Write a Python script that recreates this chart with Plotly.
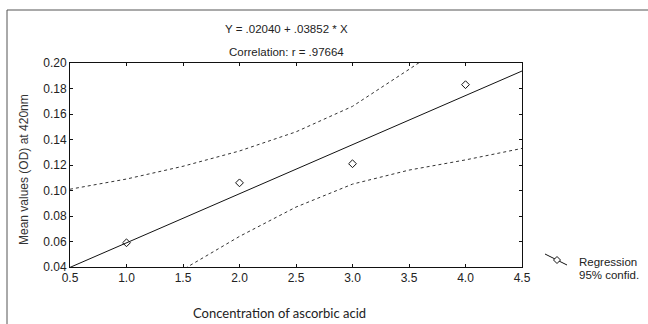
import plotly.graph_objects as go

# Observed data
conc = [1.0, 2.0, 3.0, 4.0]
od_mean = [0.059, 0.106, 0.121, 0.183]

# Regression line and 95% confidence band
line_x = [0.5, 1.0, 1.5, 2.0, 2.5, 3.0, 3.5, 4.0, 4.5]
reg_y = [0.0397, 0.0589, 0.0782, 0.0974, 0.1167, 0.1360, 0.1552, 0.1745, 0.1937]
upper_y = [0.101, 0.109, 0.119, 0.131, 0.146, 0.166, 0.195, 0.224, 0.254]
lower_y = [-0.021, 0.009, 0.038, 0.064, 0.087, 0.105, 0.116, 0.124, 0.133]

x_ticks = [0.5, 1.0, 1.5, 2.0, 2.5, 3.0, 3.5, 4.0, 4.5]
y_ticks = [0.04, 0.06, 0.08, 0.10, 0.12, 0.14, 0.16, 0.18, 0.20]

title_1 = "Y = .02040 + .03852 * X"
title_2 = "Correlation: r = .97664"
legend_1 = "Regression"
legend_2 = "95% confid."

INK = "#222222"
FONT = "Liberation Sans, Arial, sans-serif"

fig = go.Figure()
fig.add_trace(go.Scatter(x=line_x, y=upper_y, mode="lines",
                         line=dict(color="#333333", width=1, dash="3px,3px"),
                         showlegend=False, hoverinfo="skip"))
fig.add_trace(go.Scatter(x=line_x, y=lower_y, mode="lines",
                         line=dict(color="#333333", width=1, dash="3px,3px"),
                         showlegend=False, hoverinfo="skip"))
fig.add_trace(go.Scatter(x=line_x, y=reg_y, mode="lines",
                         line=dict(color="#111111", width=1),
                         showlegend=False))
fig.add_trace(go.Scatter(x=conc, y=od_mean, mode="markers",
                         marker=dict(symbol="diamond-open", size=6, color="#111111",
                                     line=dict(width=1)),
                         showlegend=False))

axis_common = dict(showline=True, linecolor="#111111", linewidth=1, mirror="ticks",
                   ticks="inside", ticklen=3, tickcolor="#111111",
                   showgrid=False, zeroline=False,
                   tickfont=dict(family=FONT, size=12, color=INK))

fig.update_xaxes(range=[0.5, 4.5], tickvals=x_ticks, tickformat=".1f", **axis_common)
fig.update_yaxes(range=[0.04, 0.20], tickvals=y_ticks, tickformat=".2f", **axis_common)

W, H = 648, 324
L, R, T, B = 70, 126, 63, 57
pw, ph = W - L - R, H - T - B

def px(xp):
    return (xp - L) / pw

def py(yp):
    return (H - B - yp) / ph

def note(text, x, y, size=11, family=FONT, color=INK, xanchor="center", angle=0):
    fig.add_annotation(text=text, x=px(x), y=py(y), xref="paper", yref="paper",
                       xanchor=xanchor, yanchor="middle", showarrow=False,
                       textangle=angle, font=dict(family=family, size=size, color=color))

note(title_1, 286, 29, size=11.5)
note(title_2, 286, 52, size=11.5)
note("Concentration of ascorbic acid", 279, 313, size=13, family="Lato, Carlito, sans-serif")
note("Mean values (OD) at 420nm", 24, 170, size=12, color="#333333", angle=-90)

# legend (drawn manually): slanted line with a diamond, two text lines
fig.add_shape(type="line", xref="paper", yref="paper",
              x0=px(545), y0=py(254), x1=px(567), y1=py(265),
              line=dict(color="#111111", width=1))
fig.add_shape(type="path", xref="paper", yref="paper",
              path=f"M {px(557)},{py(256.5)} L {px(560.5)},{py(260)} L {px(557)},{py(263.5)} "
                   f"L {px(553.5)},{py(260)} Z",
              fillcolor="white", line=dict(color="#111111", width=1))
note(legend_1, 577, 262, size=11.5, xanchor="left")
note(legend_2, 577, 275, size=11.5, xanchor="left")

# outer frame (cropped on right and bottom)
fig.add_shape(type="line", xref="paper", yref="paper",
              x0=px(7), y0=py(10), x1=px(7), y1=py(330),
              line=dict(color="#555555", width=1))
fig.add_shape(type="line", xref="paper", yref="paper",
              x0=px(7), y0=py(10), x1=px(660), y1=py(10),
              line=dict(color="#555555", width=1))

fig.update_layout(
    width=W, height=H,
    margin=dict(l=L, r=R, t=T, b=B, autoexpand=False),
    paper_bgcolor="white", plot_bgcolor="white",
    font=dict(family=FONT, size=11, color=INK),
    showlegend=False,
)

fig.write_html("out.html", config={"displayModeBar": False},
               post_script="document.body.style.margin='0';document.body.style.overflow='hidden';")
